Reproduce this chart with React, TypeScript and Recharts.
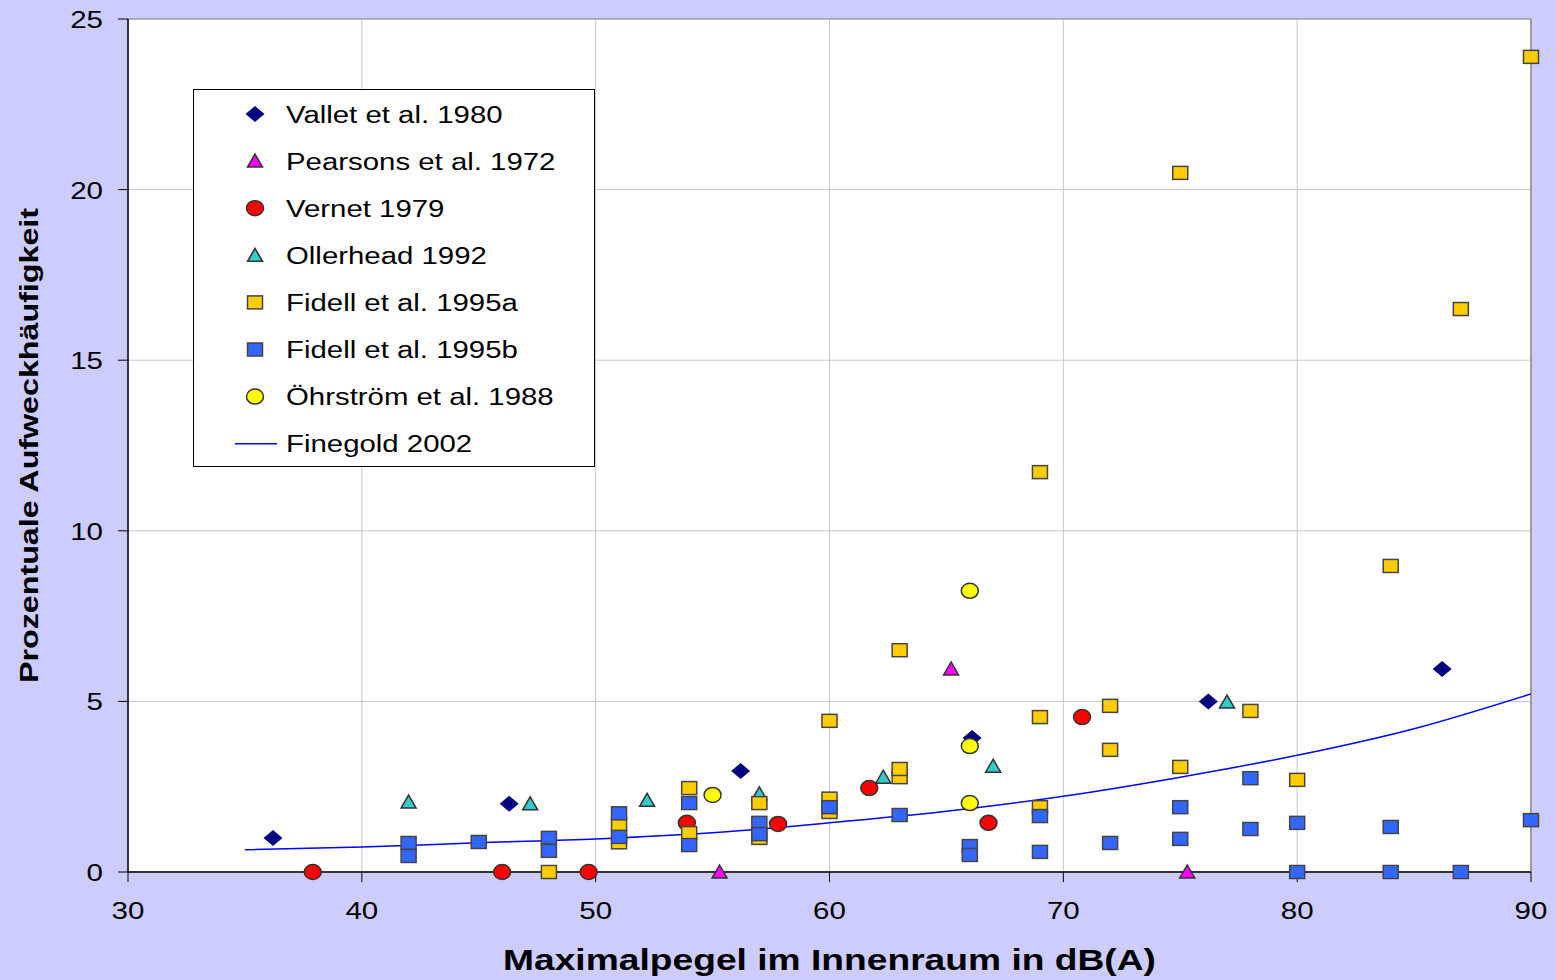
import React from 'react';
import { ScatterChart, Scatter, XAxis, YAxis, CartesianGrid, ReferenceLine } from 'recharts';

const FONT = 'Arial, "Liberation Sans", sans-serif';
const STRETCH = 1.23;

const xTicks = [30, 40, 50, 60, 70, 80, 90];
const yTicks = [0, 5, 10, 15, 20, 25];

const valletX = [36.2, 46.3, 56.2, 66.1, 76.2, 86.2];
const valletY = [1.0, 2.0, 2.96, 3.93, 5.0, 5.95];

const pearsonsX = [55.3, 65.2, 75.3];
const pearsonsY = [0, 5.95, 0];

const vernetX = [37.9, 46.0, 49.7, 53.9, 57.8, 61.7, 66.8, 70.8];
const vernetY = [0, 0, 0, 1.44, 1.41, 2.46, 1.44, 4.54];

const ollerheadX = [42.0, 47.2, 52.2, 57.0, 62.3, 67.0, 77.0];
const ollerheadY = [2.05, 2.0, 2.1, 2.29, 2.78, 3.1, 4.98];

const fidellAX = [48, 51, 51, 54, 54, 57, 57, 60, 60, 60, 63, 63, 63, 69, 69, 69, 72, 72, 75, 75, 78, 80, 84, 87, 90];
const fidellAY = [0, 0.87, 1.4, 1.14, 2.46, 1.0, 2.02, 1.76, 2.15, 4.43, 2.78, 3.02, 6.5, 1.9, 4.54, 11.72, 3.58, 4.87, 3.08, 20.49, 4.72, 2.7, 8.97, 16.5, 23.89];

const fidellBX = [42, 42, 45, 48, 48, 51, 51, 54, 54, 57, 57, 60, 63, 66, 66, 69, 69, 72, 75, 75, 78, 78, 80, 80, 84, 84, 87, 90];
const fidellBY = [0.85, 0.47, 0.88, 1.0, 0.62, 1.72, 1.03, 2.02, 0.79, 1.44, 1.11, 1.9, 1.67, 0.76, 0.5, 1.64, 0.59, 0.85, 1.9, 0.97, 2.75, 1.26, 1.44, 0, 1.32, 0, 0, 1.52];

const ohrstromX = [55.0, 66, 66, 66];
const ohrstromY = [2.26, 8.24, 3.69, 2.02];

const finegoldX = [35, 40, 45, 50, 55, 60, 65, 70, 75, 80, 85, 90];
const finegoldY = [0.65, 0.73, 0.86, 0.97, 1.15, 1.44, 1.78, 2.22, 2.78, 3.42, 4.2, 5.22];

const zip = (xs: number[], ys: number[]) => xs.map((x, i) => ({ x, y: ys[i] }));

const diamond = (fill: string) => ({ cx, cy }: any) => (
  <polygon points={`${cx},${cy - 8} ${cx + 9.5},${cy} ${cx},${cy + 8} ${cx - 9.5},${cy}`} fill={fill} />
);
const triangle = (fill: string) => ({ cx, cy }: any) => (
  <polygon points={`${cx},${cy - 7} ${cx + 7.5},${cy + 6} ${cx - 7.5},${cy + 6}`} fill={fill} stroke="#333" strokeWidth={1.5} />
);
const circle = (fill: string) => ({ cx, cy }: any) => (
  <ellipse cx={cx} cy={cy} rx={8.5} ry={7.5} fill={fill} stroke="#333" strokeWidth={1.5} />
);
const square = (fill: string) => ({ cx, cy }: any) => (
  <rect x={cx - 7.5} y={cy - 6.5} width={15} height={13} fill={fill} stroke="#444" strokeWidth={1.5} />
);

const series = [
  { name: 'Vallet et al. 1980', data: zip(valletX, valletY), shape: diamond('#000080') },
  { name: 'Pearsons et al. 1972', data: zip(pearsonsX, pearsonsY), shape: triangle('#FF00FF') },
  { name: 'Vernet 1979', data: zip(vernetX, vernetY), shape: circle('#FF0000') },
  { name: 'Ollerhead 1992', data: zip(ollerheadX, ollerheadY), shape: triangle('#33CCCC') },
  { name: 'Fidell et al. 1995a', data: zip(fidellAX, fidellAY), shape: square('#FFCC00') },
  { name: 'Fidell et al. 1995b', data: zip(fidellBX, fidellBY), shape: square('#3366FF') },
  { name: 'Öhrström et al. 1988', data: zip(ohrstromX, ohrstromY), shape: circle('#FFFF00') },
];
const lineName = 'Finegold 2002';

const XTick = ({ x, y, payload }: any) => (
  <text transform={`translate(${x},${y + 37}) scale(${STRETCH},1)`} textAnchor="middle" fontSize={24} fontFamily={FONT} fill="#000">
    {payload.value}
  </text>
);

const YTick = ({ x, y, payload }: any) => (
  <text transform={`translate(${x - 15},${y + 9}) scale(${STRETCH},1)`} textAnchor="end" fontSize={24} fontFamily={FONT} fill="#000">
    {payload.value}
  </text>
);

const LegendBox = () => {
  const rowY = (i: number) => 114 + i * 47.1;
  return (
    <svg width={1556} height={980} style={{ position: 'absolute', left: 0, top: 0, pointerEvents: 'none' }}>
      <rect x={193.5} y={89.5} width={401} height={377} fill="#fff" stroke="#000" strokeWidth={1} />
      {series.map((s, i) => (
        <g key={s.name}>
          {s.shape({ cx: 255, cy: rowY(i) })}
          <text transform={`translate(286,${rowY(i) + 8.5}) scale(1.25,1)`} fontSize={23.5} fontFamily={FONT} fill="#000">
            {s.name}
          </text>
        </g>
      ))}
      <line x1={235} x2={277} y1={rowY(7)} y2={rowY(7)} stroke="#0000FF" strokeWidth={1.5} />
      <text transform={`translate(286,${rowY(7) + 8.5}) scale(1.25,1)`} fontSize={23.5} fontFamily={FONT} fill="#000">
        {lineName}
      </text>
    </svg>
  );
};

export default function App() {
  return (
    <div style={{ position: 'absolute', left: 0, top: 0, width: 1556, height: 980, background: '#CCCCFF' }}>
      <ScatterChart width={1556} height={980} margin={{ top: 19, right: 25, left: 28, bottom: 0 }}>
        <CartesianGrid stroke="#C8C8C8" fill="#FFFFFF" />
        <XAxis
          type="number"
          dataKey="x"
          domain={[30, 90]}
          ticks={xTicks}
          height={108}
          tickSize={10}
          tickMargin={0}
          tick={<XTick />}
          axisLine={{ stroke: '#333', strokeWidth: 2 }}
          tickLine={{ stroke: '#000' }}
          label={(props: any) => {
            const vb = props.viewBox;
            return (
              <text
                transform={`translate(${vb.x + vb.width / 2},970) scale(1.24,1)`}
                textAnchor="middle"
                fontSize={30}
                fontWeight="bold"
                fontFamily={FONT}
                fill="#000"
              >
                Maximalpegel im Innenraum in dB(A)
              </text>
            );
          }}
        />
        <YAxis
          type="number"
          dataKey="y"
          domain={[0, 25]}
          ticks={yTicks}
          width={100}
          tickSize={10}
          tickMargin={0}
          tick={<YTick />}
          axisLine={{ stroke: '#000', strokeWidth: 1.5 }}
          tickLine={{ stroke: '#000' }}
          label={(props: any) => {
            const vb = props.viewBox;
            return (
              <text
                transform={`translate(37.5,${vb.y + vb.height / 2}) rotate(-90) scale(1.24,1)`}
                textAnchor="middle"
                fontSize={26}
                fontWeight="bold"
                fontFamily={FONT}
                fill="#000"
              >
                Prozentuale Aufweckhäufigkeit
              </text>
            );
          }}
        />
        <ReferenceLine x={90} stroke="#888" strokeWidth={1.5} />
        <ReferenceLine y={25} stroke="#888" strokeWidth={1} />
        <Scatter
          name={lineName}
          data={zip(finegoldX, finegoldY)}
          line={{ stroke: '#0000FF', strokeWidth: 1.5 }}
          lineJointType="monotoneX"
          shape={() => <g />}
          isAnimationActive={false}
        />
        {series.map((s) => (
          <Scatter key={s.name} name={s.name} data={s.data} shape={s.shape} isAnimationActive={false} />
        ))}
      </ScatterChart>
      <LegendBox />
    </div>
  );
}
